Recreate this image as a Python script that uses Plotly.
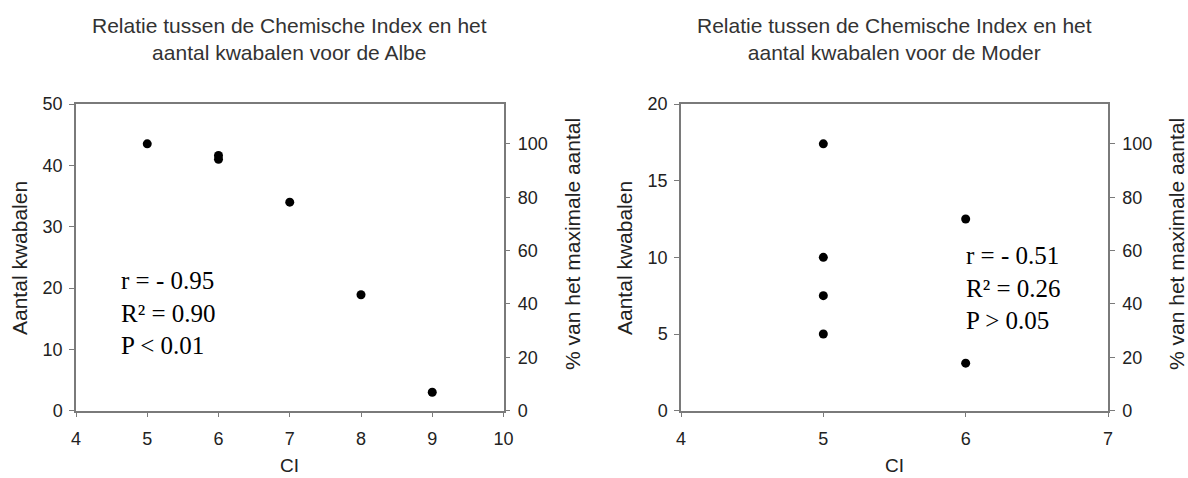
import plotly.graph_objects as go

# Albe data
albe_ci = [5, 6, 6, 7, 8, 9]
albe_n = [43.5, 41.6, 41.0, 34.0, 18.9, 3.0]
# Moder data
moder_ci = [5, 5, 5, 5, 6, 6]
moder_n = [17.4, 10.0, 7.5, 5.0, 12.5, 3.1]

albe_title = "Relatie tussen de Chemische Index en het<br>aantal kwabalen voor de Albe"
moder_title = "Relatie tussen de Chemische Index en het<br>aantal kwabalen voor de Moder"
albe_stats = "r = - 0.95<br>R² = 0.90<br>P < 0.01"
moder_stats = "r = - 0.51<br>R² = 0.26<br>P > 0.05"
x_title = "CI"
y_title = "Aantal kwabalen"
y2_title = "% van het maximale aantal"

albe_pct = [v / max(albe_n) * 100 for v in albe_n]
moder_pct = [v / max(moder_n) * 100 for v in moder_n]

W, H = 1188, 478
SANS = "Arial, Liberation Sans, sans-serif"
SERIF = "Times New Roman, Liberation Serif, serif"
AXC = "#7a7a7a"
TXT = "#222222"

def px(x):
    return x / W

def py(y):
    return 1 - y / H

fig = go.Figure()
mk = dict(color="black", size=9)
fig.add_trace(go.Scatter(x=albe_ci, y=albe_n, mode="markers", marker=mk, xaxis="x", yaxis="y", showlegend=False))
fig.add_trace(go.Scatter(x=albe_ci, y=albe_pct, mode="markers", marker=dict(size=1, opacity=0), xaxis="x", yaxis="y3", showlegend=False, hoverinfo="skip"))
fig.add_trace(go.Scatter(x=moder_ci, y=moder_n, mode="markers", marker=mk, xaxis="x2", yaxis="y2", showlegend=False))
fig.add_trace(go.Scatter(x=moder_ci, y=moder_pct, mode="markers", marker=dict(size=1, opacity=0), xaxis="x2", yaxis="y4", showlegend=False, hoverinfo="skip"))

ydom = [py(410.7), py(104)]
xd1 = [px(76), px(503.5)]
xd2 = [px(681), px(1108)]

tickfont = dict(family=SANS, size=18, color=TXT)

def xax(dom, rng, anchor):
    return dict(domain=dom, range=rng, dtick=1, anchor=anchor, showgrid=False, zeroline=False,
                showline=True, linecolor=AXC, linewidth=1.5, mirror=True, automargin=False,
                ticks="outside", ticklen=5, tickcolor=AXC, tickfont=tickfont, ticklabelstandoff=6)

def yax(rng, dtick, anchor):
    return dict(domain=ydom, range=rng, dtick=dtick, anchor=anchor, showgrid=False, zeroline=False,
                showline=True, linecolor=AXC, linewidth=1.5, mirror=True, automargin=False,
                ticks="outside", ticklen=5, tickcolor=AXC, tickfont=tickfont, ticklabelstandoff=3)

def y2ax(overlay, anchor):
    return dict(overlaying=overlay, side="right", anchor=anchor, range=[0, 50 / 43.5 * 100], dtick=20,
                showgrid=False, zeroline=False, showline=True, linecolor=AXC, linewidth=1.5, automargin=False,
                ticks="outside", ticklen=5, tickcolor=AXC, tickfont=tickfont, ticklabelstandoff=4)

def ann(text, x, y, size, family=SANS, color=TXT, angle=0, align="center", xanchor="center"):
    return dict(text=text, x=x, y=y, xref="paper", yref="paper", showarrow=False, textangle=angle,
                font=dict(family=family, size=size, color=color), align=align,
                xanchor=xanchor, yanchor="middle")

annotations = [
    ann(albe_title, (xd1[0] + xd1[1]) / 2, py(39), 21, color="#333333"),
    ann(moder_title, (xd2[0] + xd2[1]) / 2, py(39), 21, color="#333333"),
    ann(x_title, (xd1[0] + xd1[1]) / 2, py(465), 19),
    ann(x_title, (xd2[0] + xd2[1]) / 2, py(465), 19),
    ann(y_title, px(19), py(258), 21, angle=-90),
    ann(y_title, px(624), py(258), 21, angle=-90),
    ann(y2_title, px(572), py(244), 21, angle=-90),
    ann(y2_title, px(1176), py(244), 21, angle=-90),
    ann(albe_stats, px(119), py(313), 25, family=SERIF, color="black", align="left", xanchor="left"),
    ann(moder_stats, px(964), py(288), 25, family=SERIF, color="black", align="left", xanchor="left"),
]

fig.update_layout(
    width=W, height=H, margin=dict(l=0, r=0, t=0, b=0),
    paper_bgcolor="white", plot_bgcolor="white",
    xaxis=xax(xd1, [4, 10], "y"),
    yaxis=yax([0, 50], 10, "x"),
    yaxis3=y2ax("y", "x"),
    xaxis2=xax(xd2, [4, 7], "y2"),
    yaxis2=yax([0, 20], 5, "x2"),
    yaxis4=y2ax("y2", "x2"),
    annotations=annotations,
)

fig.write_html("out.html", config={"displayModeBar": False},
               post_script="document.body.style.margin='0';document.body.style.overflow='hidden';")
